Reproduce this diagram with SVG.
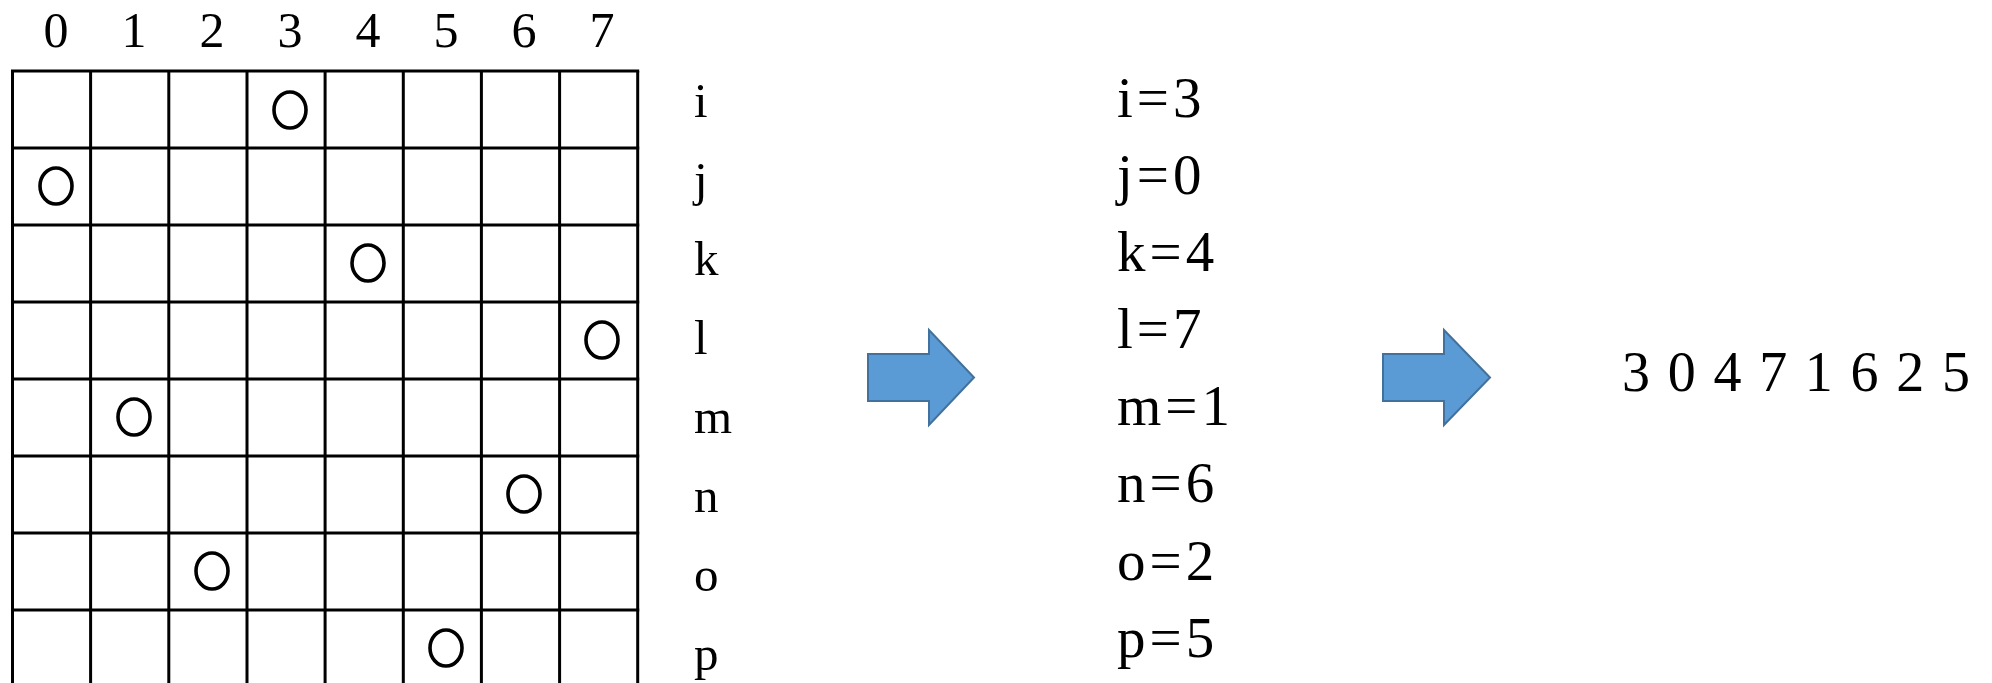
<svg xmlns="http://www.w3.org/2000/svg" width="1992" height="683" viewBox="0 0 1992 683">
<style>
.t{font-family:"Liberation Serif","Times New Roman",serif;fill:#000}
.hd{font-size:50px;text-anchor:middle}
.rl{font-size:49px}
.ls{font-size:57px;letter-spacing:4px}
.gl{stroke:#000;stroke-width:3;fill:none}
.mk{stroke:#000;stroke-width:3.6;fill:none}
.ar{fill:#5B9BD5;stroke:#41719C;stroke-width:2}
</style>
<rect width="1992" height="683" fill="#fff"/>
<g id="grid">
<g class="gl">
<line x1="12.5" y1="71" x2="12.5" y2="690"/>
<line x1="90.6" y1="71" x2="90.6" y2="690"/>
<line x1="168.8" y1="71" x2="168.8" y2="690"/>
<line x1="247" y1="71" x2="247" y2="690"/>
<line x1="325.1" y1="71" x2="325.1" y2="690"/>
<line x1="403.3" y1="71" x2="403.3" y2="690"/>
<line x1="481.4" y1="71" x2="481.4" y2="690"/>
<line x1="559.6" y1="71" x2="559.6" y2="690"/>
<line x1="637.7" y1="71" x2="637.7" y2="690"/>
<line x1="11" y1="71" x2="639.2" y2="71"/>
<line x1="11" y1="148" x2="639.2" y2="148"/>
<line x1="11" y1="225" x2="639.2" y2="225"/>
<line x1="11" y1="302" x2="639.2" y2="302"/>
<line x1="11" y1="379" x2="639.2" y2="379"/>
<line x1="11" y1="456" x2="639.2" y2="456"/>
<line x1="11" y1="533" x2="639.2" y2="533"/>
<line x1="11" y1="610" x2="639.2" y2="610"/>
</g>
<g class="mk">
<ellipse cx="290" cy="110" rx="16" ry="18"/>
<ellipse cx="56" cy="186" rx="16" ry="18"/>
<ellipse cx="368" cy="263" rx="16" ry="18"/>
<ellipse cx="602" cy="340" rx="16" ry="18"/>
<ellipse cx="134" cy="417" rx="16" ry="18"/>
<ellipse cx="524" cy="494" rx="16" ry="18"/>
<ellipse cx="212" cy="571" rx="16" ry="18"/>
<ellipse cx="446" cy="648" rx="16" ry="18"/>
</g>
</g>
<g id="col-labels" class="t hd">
<text x="56" y="47">0</text>
<text x="134" y="47">1</text>
<text x="212" y="47">2</text>
<text x="290" y="47">3</text>
<text x="368" y="47">4</text>
<text x="446" y="47">5</text>
<text x="524" y="47">6</text>
<text x="602" y="47">7</text>
</g>
<g id="row-labels" class="t rl">
<text x="694" y="117">i</text>
<text x="694" y="196">j</text>
<text x="694" y="275">k</text>
<text x="694" y="354">l</text>
<text x="694" y="433">m</text>
<text x="694" y="512">n</text>
<text x="694" y="591">o</text>
<text x="694" y="670">p</text>
</g>
<g id="assignments" class="t ls">
<text x="1117" y="117">i=3</text>
<text x="1117" y="194">j=0</text>
<text x="1117" y="271">k=4</text>
<text x="1117" y="348">l=7</text>
<text x="1117" y="425">m=1</text>
<text x="1117" y="502">n=6</text>
<text x="1117" y="580">o=2</text>
<text x="1117" y="657">p=5</text>
</g>
<g id="result">
<text class="t" x="1622" y="391" font-size="56" textLength="348" lengthAdjust="spacing">3 0 4 7 1 6 2 5</text>
</g>
<g id="connectors">
<path class="ar" d="M868,354 H929 V330 L974,377.5 L929,425 V401 H868 Z"/>
<path class="ar" d="M1383,354 H1444 V330 L1490,377.5 L1444,425 V401 H1383 Z"/>
</g>
</svg>
